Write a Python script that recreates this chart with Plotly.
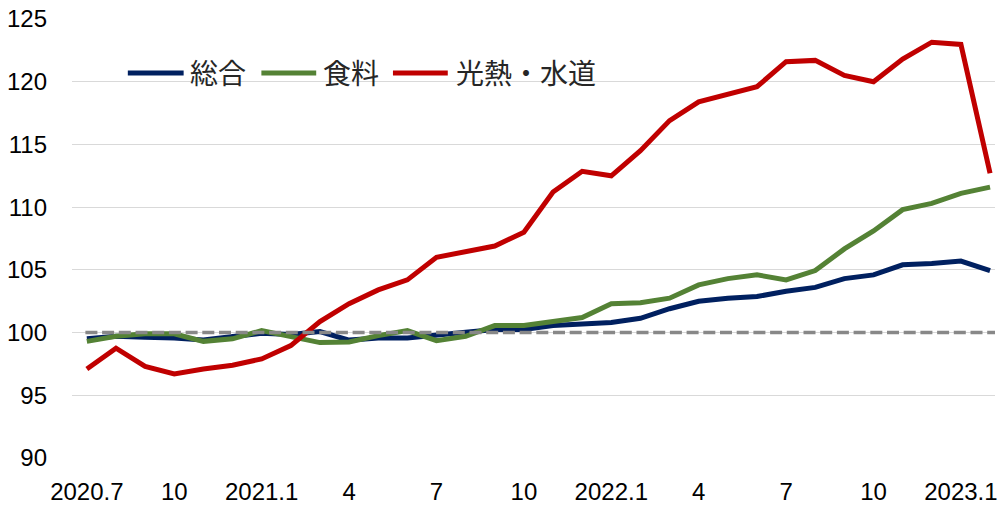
import plotly.graph_objects as go

months = ["2020-07","2020-08","2020-09","2020-10","2020-11","2020-12",
          "2021-01","2021-02","2021-03","2021-04","2021-05","2021-06",
          "2021-07","2021-08","2021-09","2021-10","2021-11","2021-12",
          "2022-01","2022-02","2022-03","2022-04","2022-05","2022-06",
          "2022-07","2022-08","2022-09","2022-10","2022-11","2022-12",
          "2023-01","2023-02"]

sogo = [99.5, 99.7, 99.63, 99.57, 99.4, 99.68, 99.95, 99.84, 100.08, 99.4, 99.57, 99.57,
        99.84, 100.03, 100.24, 100.24, 100.56, 100.7, 100.8, 101.14, 101.9, 102.5, 102.74, 102.87,
        103.3, 103.6, 104.3, 104.6, 105.4, 105.5, 105.7, 104.94]

shokuryo = [99.3, 99.7, 99.9, 99.9, 99.3, 99.5, 100.16, 99.7, 99.2, 99.25, 99.76, 100.16,
            99.36, 99.7, 100.56, 100.56, 100.88, 101.2, 102.3, 102.37, 102.74, 103.8, 104.3, 104.6,
            104.2, 104.94, 106.67, 108.1, 109.8, 110.3, 111.1, 111.6]

konetsu = [97.1, 98.75, 97.3, 96.7, 97.1, 97.4, 97.9, 98.96, 100.88, 102.3, 103.4, 104.2,
           106.0, 106.5, 106.9, 108.0, 111.2, 112.86, 112.5, 114.5, 116.9, 118.4, 119.0, 119.6,
           121.6, 121.7, 120.5, 120.0, 121.8, 123.15, 122.97, 112.7]

names = ["総合", "食料", "光熱・水道"]
colors = ["#002060", "#548235", "#C00000"]

tick_pos = [0, 3, 6, 9, 12, 15, 18, 21, 24, 27, 30]
tick_text = ["2020.7", "10", "2021.1", "4", "7", "10", "2022.1", "4", "7", "10", "2023.1"]
y_ticks = [90, 95, 100, 105, 110, 115, 120, 125]

x = list(range(len(months)))

fig = go.Figure()
for name, ys, c in zip(names, [sogo, shokuryo, konetsu], colors):
    fig.add_trace(go.Scatter(x=x, y=ys, mode="lines", name=name,
                             line=dict(color=c, width=5),
                             customdata=months, showlegend=False,
                             hovertemplate="%{customdata}: %{y}<extra>" + name + "</extra>"))

fig.add_shape(type="line", xref="x", yref="y", x0=-0.05, x1=31.17, y0=100, y1=100,
              line=dict(color="#888888", width=3.5, dash="12px,4.7px"), layer="above")

# manual legend (swatch + label), positions in pixels converted to paper coords
L, W, T, H = 72, 926, 19, 439
def px(v):
    return (v - L) / W
def py(v):
    return (T + H - v) / H

legend_items = [(128, 184, 188), (262, 317, 322), (394, 449, 455)]
for (x0, x1, tx), name, c in zip(legend_items, names, colors):
    fig.add_shape(type="line", xref="paper", yref="paper", x0=px(x0), x1=px(x1),
                  y0=py(73), y1=py(73), line=dict(color=c, width=5))
    fig.add_annotation(xref="paper", yref="paper", x=px(tx), y=py(72), text=name,
                       showarrow=False, xanchor="left", yanchor="middle",
                       font=dict(family="Noto Sans CJK JP", size=28, color="#262626"))

tick_font = dict(family="Liberation Sans, Arial, sans-serif", size=24, color="black")

fig.update_layout(
    width=998, height=509,
    margin=dict(l=L, r=0, t=T, b=509 - T - H),
    paper_bgcolor="white", plot_bgcolor="white",
    font=dict(family="Liberation Sans, Arial, sans-serif", size=20, color="black"),
    showlegend=False,
    xaxis=dict(range=[-0.51, 31.17], tickmode="array", tickvals=tick_pos, ticktext=tick_text,
               showgrid=False, zeroline=False, showline=False, ticks="",
               ticklabelstandoff=17, ticklabeloverflow="allow", tickfont=tick_font),
    yaxis=dict(range=[90, 125], tickmode="array", tickvals=y_ticks,
               showgrid=True, gridcolor="#d9d9d9", gridwidth=1, zeroline=False, showline=False,
               ticks="", ticklabelstandoff=24, tickfont=tick_font),
)

fig.write_html("out.html", config={"displayModeBar": False},
               post_script="document.body.style.margin='0px';document.body.style.overflow='hidden';")
